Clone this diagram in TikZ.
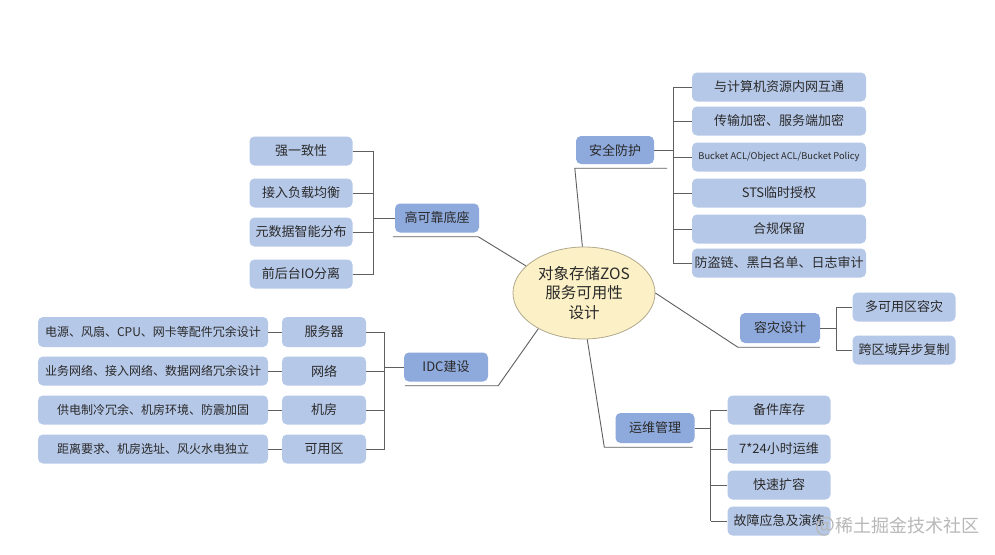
\documentclass[tikz,border=0pt]{standalone}
\usepackage{fontspec}
\setmainfont{Noto Sans CJK SC}
\usetikzlibrary{calc,shapes.geometric}
\definecolor{zsLeaf}{HTML}{B6C8E8}
\definecolor{zsHub}{HTML}{8EA9DB}
\definecolor{zsCore}{HTML}{FBF0C6}
\definecolor{zsCoreLine}{HTML}{B3A98C}
\definecolor{zsText}{HTML}{2A2A2A}
\definecolor{zsLine}{HTML}{5F5F5F}
\definecolor{zsMark}{HTML}{B8B8B8}

\begin{document}
\begin{tikzpicture}[x=1pt,y=-1pt,font=\fontsize{13}{15}\selectfont,text=zsText,
      leaf/.style={fill=zsLeaf,rounded corners=5pt,inner sep=0pt,
                   minimum height=29pt,minimum width=103pt,align=center},
      hub/.style={leaf,fill=zsHub},
      link/.style={draw=zsLine,line width=0.9pt}]
    \fill[white] (0,0) rectangle (995,554);
    \useasboundingbox (0,0) rectangle (995,554);

    % centre
    \node[ellipse,fill=zsCore,draw=zsCoreLine,line width=0.8pt,minimum width=142pt,
          minimum height=92pt,inner sep=0pt,align=center,
          font=\fontsize{15.5}{19.5}\selectfont] (root) at (584,293) {对象存储ZOS\\服务可用性\\设计};

    % hubs
    \node[hub,minimum width=84pt] (gk) at (437,218) {高可靠底座};
    \node[hub,minimum width=78pt,minimum height=28pt] (aq) at (615,150) {安全防护};
    \node[hub,minimum width=80pt,minimum height=30pt] (rz) at (780,328) {容灾设计};
    \node[hub,minimum width=84pt] (idc) at (446,367) {IDC建设};
    \node[hub,minimum width=79pt,minimum height=30pt] (yw) at (655,428) {运维管理};

    % 高可靠底座
    \node[leaf] (g1) at (301,151) {强一致性};
    \node[leaf] (g2) at (301,193) {接入负载均衡};
    \node[leaf] (g3) at (301,232) {元数据智能分布};
    \node[leaf] (g4) at (301,274) {前后台IO分离};

    % IDC建设
    \node[leaf,minimum width=84pt,minimum height=30pt] (s1) at (324,332) {服务器};
    \node[leaf,minimum width=84pt] (s2) at (324,371) {网络};
    \node[leaf,minimum width=84pt] (s3) at (324,410) {机房};
    \node[leaf,minimum width=84pt] (s4) at (324,449) {可用区};
    \begin{scope}[every node/.append style={font=\fontsize{12}{14}\selectfont}]
      \node[leaf,minimum width=230pt,minimum height=30pt] (d1) at (153,332) {电源、风扇、CPU、网卡等配件冗余设计};
      \node[leaf,minimum width=230pt] (d2) at (153,371) {业务网络、接入网络、数据网络冗余设计};
      \node[leaf,minimum width=230pt] (d3) at (153,410) {供电制冷冗余、机房环境、防震加固};
      \node[leaf,minimum width=230pt] (d4) at (153,449) {距离要求、机房选址、风火水电独立};
    \end{scope}

    % 安全防护
    \node[leaf,minimum width=174pt] (a1) at (779,87)  {与计算机资源内网互通};
    \node[leaf,minimum width=174pt] (a2) at (779,121) {传输加密、服务端加密};
    \node[leaf,minimum width=174pt,font=\fontsize{9.3}{11}\selectfont] (a3) at (779,157) {Bucket ACL/Object ACL/Bucket Policy};
    \node[leaf,minimum width=174pt] (a4) at (779,193) {STS临时授权};
    \node[leaf,minimum width=174pt] (a5) at (779,229) {合规保留};
    \node[leaf,minimum width=174pt] (a6) at (779,263) {防盗链、黑白名单、日志审计};

    % 容灾设计
    \node[leaf] (r1) at (904,307) {多可用区容灾};
    \node[leaf] (r2) at (904,350) {跨区域异步复制};

    % 运维管理
    \node[leaf] (y1) at (779,410) {备件库存};
    \node[leaf] (y2) at (779,449) {7*24小时运维};
    \node[leaf] (y3) at (779,485) {快速扩容};
    \node[leaf] (y4) at (779,521) {故障应急及演练};

    % centre to hubs
    \draw[link] (root.155) -- ($(gk.south east)+(-1,4)$) -- ($(gk.south west)+(-2,4)$);
    \draw[link] (root.92) -- ($(aq.south west)+(-1,4)$) -- ($(aq.south east)+(13,4)$);
    \draw[link] (root.east) -- ($(rz.south west)+(-2,4)$) -- ($(rz.south east)+(0,4)$);
    \draw[link] (root.218) -- ($(idc.south east)+(10,4)$) -- ($(idc.south west)+(1,4)$);
    \draw[link] (root.274) -- ($(yw.south west)+(-11,4)$) -- ($(yw.south east)+(-2,4)$);

    % brackets
    \coordinate (gkb) at ($(gk.west)+(-21,0)$);
    \foreach \n in {g1,g2,g3,g4} \draw[link] (\n.east) -- (\n.east -| gkb);
    \draw[link] (g1.east -| gkb) -- (g4.east -| gkb);
    \draw[link] (gk.west) -- (gkb);

    \coordinate (idcb) at ($(idc.west)+(-19,0)$);
    \foreach \n in {s1,s2,s3,s4} \draw[link] (\n.east) -- (\n.east -| idcb);
    \draw[link] (s1.east -| idcb) -- (s4.east -| idcb);
    \draw[link] (idc.west) -- (idcb);
    \foreach \d/\s in {d1/s1,d2/s2,d3/s3,d4/s4} \draw[link] (\d.east) -- (\s.west);

    \coordinate (aqb) at ($(aq.east)+(19,0)$);
    \foreach \n in {a1,a2,a3,a4,a5,a6} \draw[link] (\n.west) -- (\n.west -| aqb);
    \draw[link] (a1.west -| aqb) -- (a6.west -| aqb);
    \draw[link] (aq.east) -- (aqb);

    \coordinate (rzb) at ($(rz.east)+(16,0)$);
    \foreach \n in {r1,r2} \draw[link] (\n.west) -- (\n.west -| rzb);
    \draw[link] (r1.west -| rzb) -- (r2.west -| rzb);
    \draw[link] (rz.east) -- (rzb);

    \coordinate (ywb) at ($(yw.east)+(16,0)$);
    \foreach \n in {y1,y2,y3,y4} \draw[link] (\n.west) -- (\n.west -| ywb);
    \draw[link] (y1.west -| ywb) -- (y4.west -| ywb);
    \draw[link] (yw.east) -- (ywb);

    % watermark
    \node[text=zsMark,font=\fontsize{18}{20}\selectfont,anchor=west] (mark) at (812,527) {{\fontsize{21}{20}\selectfont @}稀土掘金技术社区};
  \end{tikzpicture}
\end{document}
